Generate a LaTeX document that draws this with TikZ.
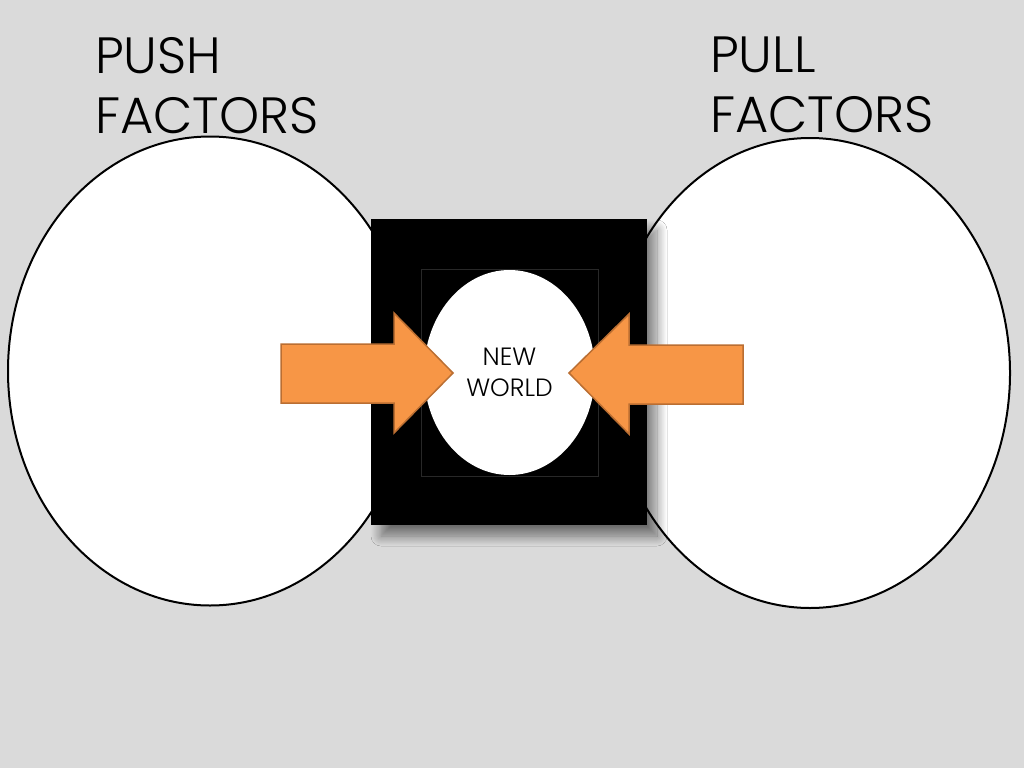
\documentclass[tikz,border=0pt]{standalone}
\usepackage{fontspec}
\IfFontExistsTF{Poppins Light}{\setmainfont{Poppins Light}}{\setmainfont{Poppins}}
\usepackage{tikz}
\usetikzlibrary{shapes.geometric}
\usetikzlibrary{shadows.blur}

\definecolor{slidegray}{RGB}{218,218,218}
\definecolor{arroworange}{RGB}{247,150,70}
\definecolor{arrowedge}{RGB}{186,110,50}
\definecolor{inneredge}{RGB}{40,40,40}

\tikzset{
  bigoval/.style={ellipse,draw=black,line width=2pt,fill=white,inner sep=0pt},
  headline/.style={anchor=north west,align=left,inner sep=0pt,font=\fontsize{51}{60}\selectfont},
  pusharrow/.style={fill=arroworange,draw=arrowedge,line width=1.5pt,line join=miter}
}

\begin{document}
\begin{tikzpicture}[x=1pt,y=-1pt]

\useasboundingbox (0,0) rectangle (1024,768);
\fill[slidegray] (0,0) rectangle (1024,768);								% Hintergrund

\node[headline] (push) at (95,37) {PUSH\\FACTORS};					% Titel links
\node[headline] (pull) at (710,37) {PULL\\FACTORS};					% Titel rechts

\node[bigoval,minimum width=404pt,minimum height=469pt] (pushoval) at (210,371) {};	% Oval links
\node[bigoval,minimum width=400pt,minimum height=470pt] (pulloval) at (810,373) {};	% Oval rechts

\node[fill=black,minimum width=276pt,minimum height=306pt,inner sep=0pt,
  blur shadow={shadow xshift=10pt,shadow yshift=-11pt,shadow blur radius=10pt,shadow blur steps=12,shadow opacity=50}]
  (frame) at (509,372) {};													% schwarzer Rahmen
\draw[inneredge,line width=0.6pt] (421,269) rectangle (598,476);		% innerer Rand
\node[ellipse,fill=white,minimum width=171pt,minimum height=205pt,inner sep=0pt] (world) at (509.5,372.5) {};	% Oval Mitte
\node[align=center,font=\fontsize{25}{31}\selectfont] (label) at (world.center) {NEW\\WORLD};

\coordinate (pushtip) at (453,373);
\coordinate (pulltip) at (569,373);
\draw[pusharrow] (281,344) -- (394,344) -- (394,313) -- (pushtip) -- (394,433) -- (394,403) -- (281,403) -- cycle;	% Pfeil links
\draw[pusharrow] (743,345) -- (629,345) -- (629,314) -- (pulltip) -- (629,434) -- (629,404) -- (743,404) -- cycle;	% Pfeil rechts

\end{tikzpicture}
\end{document}
